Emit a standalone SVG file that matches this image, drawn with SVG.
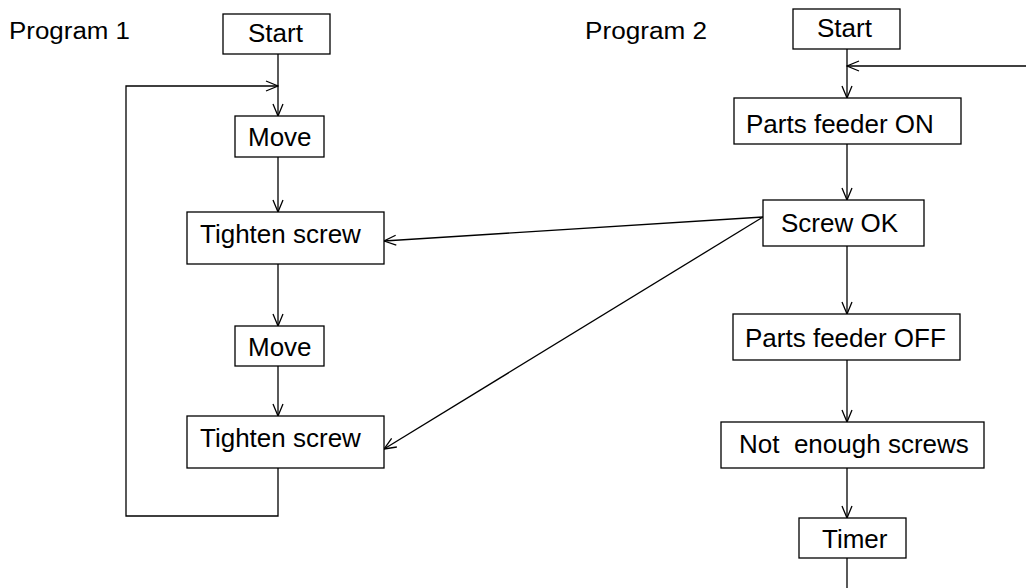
<svg xmlns="http://www.w3.org/2000/svg" width="1026" height="588" viewBox="0 0 1026 588">
  <style>
    .box { fill: #ffffff; stroke: #000000; stroke-width: 1.3; }
    .lbl { font-family: "Liberation Sans", Arial, sans-serif; font-size: 26px; fill: #000000; white-space: pre; }
    .title { font-family: "Liberation Sans", Arial, sans-serif; font-size: 23px; fill: #000000; }
    .edge { fill: none; stroke: #000000; stroke-width: 1.3; }
  </style>
  <defs>
    <marker id="arrow" viewBox="0 0 14 12" refX="13" refY="6" markerWidth="14" markerHeight="12" markerUnits="userSpaceOnUse" orient="auto">
      <path d="M1,1 L13,6 L1,11" fill="none" stroke="#000000" stroke-width="1.3"/>
    </marker>
  </defs>
  <rect width="1026" height="588" fill="#ffffff"/>

  <text class="title" x="9" y="39" textLength="121" lengthAdjust="spacingAndGlyphs">Program 1</text>
  <text class="title" x="585" y="39" textLength="122" lengthAdjust="spacingAndGlyphs">Program 2</text>

  <!-- connectors -->
  <g id="connectors">
    <!-- program 1 -->
    <path class="edge" d="M278,54 V116" marker-end="url(#arrow)"/>
    <path class="edge" d="M278,468 V516 H126 V86 H278" marker-end="url(#arrow)"/>
    <path class="edge" d="M278,157 V212" marker-end="url(#arrow)"/>
    <path class="edge" d="M278,264 V326" marker-end="url(#arrow)"/>
    <path class="edge" d="M278,366 V416" marker-end="url(#arrow)"/>
    <!-- program 2 -->
    <path class="edge" d="M847,49 V98" marker-end="url(#arrow)"/>
    <path class="edge" d="M1030,66 H847" marker-end="url(#arrow)"/>
    <path class="edge" d="M847,144 V200" marker-end="url(#arrow)"/>
    <path class="edge" d="M847,246 V314" marker-end="url(#arrow)"/>
    <path class="edge" d="M847,360 V422" marker-end="url(#arrow)"/>
    <path class="edge" d="M847,468 V518" marker-end="url(#arrow)"/>
    <path class="edge" d="M847,558 V592"/>
    <!-- screw OK signals -->
    <path class="edge" d="M763,217 L384,241" marker-end="url(#arrow)"/>
    <path class="edge" d="M763,217 L384,449" marker-end="url(#arrow)"/>
  </g>

  <g id="p1-start">
    <rect class="box" x="223" y="14" width="107" height="40"/>
    <text class="lbl" x="248" y="42">Start</text>
  </g>
  <g id="p1-move1">
    <rect class="box" x="235" y="116" width="89" height="41"/>
    <text class="lbl" x="248" y="146">Move</text>
  </g>
  <g id="p1-tighten1">
    <rect class="box" x="187" y="212" width="197" height="52"/>
    <text class="lbl" x="200" y="243">Tighten screw</text>
  </g>
  <g id="p1-move2">
    <rect class="box" x="235" y="326" width="89" height="40"/>
    <text class="lbl" x="248" y="356">Move</text>
  </g>
  <g id="p1-tighten2">
    <rect class="box" x="187" y="416" width="197" height="52"/>
    <text class="lbl" x="200" y="447">Tighten screw</text>
  </g>

  <g id="p2-start">
    <rect class="box" x="793" y="9" width="107" height="40"/>
    <text class="lbl" x="817" y="37">Start</text>
  </g>
  <g id="p2-feeder-on">
    <rect class="box" x="734" y="98" width="227" height="46"/>
    <text class="lbl" x="746" y="133">Parts feeder ON</text>
  </g>
  <g id="p2-screw-ok">
    <rect class="box" x="763" y="200" width="161" height="46"/>
    <text class="lbl" x="781" y="232">Screw OK</text>
  </g>
  <g id="p2-feeder-off">
    <rect class="box" x="733" y="314" width="227" height="46"/>
    <text class="lbl" x="745" y="347">Parts feeder OFF</text>
  </g>
  <g id="p2-not-enough">
    <rect class="box" x="721" y="422" width="263" height="46"/>
    <text class="lbl" x="739" y="453" xml:space="preserve">Not  enough screws</text>
  </g>
  <g id="p2-timer">
    <rect class="box" x="799" y="518" width="107" height="40"/>
    <text class="lbl" x="822" y="548">Timer</text>
  </g>
</svg>
